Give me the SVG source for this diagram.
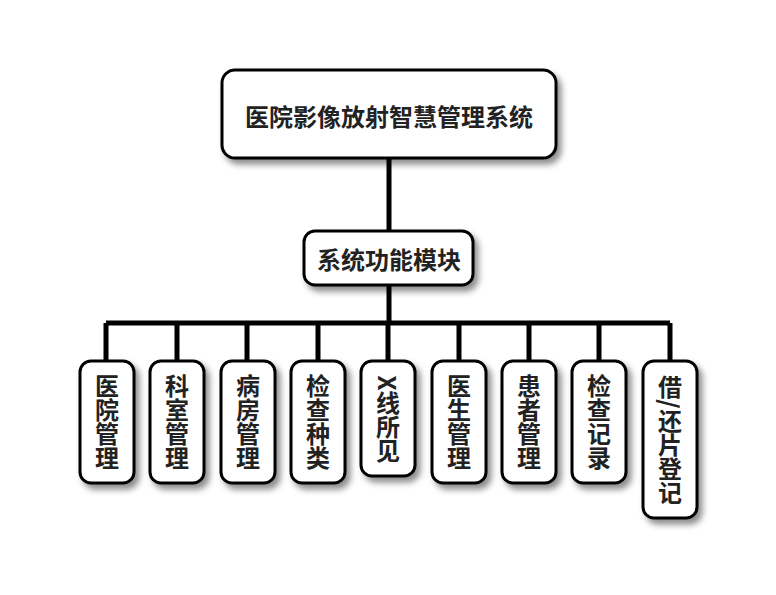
<svg xmlns="http://www.w3.org/2000/svg" width="776" height="595" viewBox="0 0 776 595">
<defs>
<filter id="sh" x="-30%" y="-30%" width="160%" height="160%">
<feDropShadow dx="4" dy="5" stdDeviation="3" flood-color="#000" flood-opacity="0.45"/>
</filter>
<style>
.box{fill:#fff;stroke:#000;stroke-width:3;filter:url(#sh)}
.t{font-family:"Noto Sans CJK SC","Noto Sans",sans-serif;font-weight:bold;font-size:24px;fill:#222;text-anchor:middle;dominant-baseline:central}
.v{writing-mode:vertical-rl;text-orientation:mixed}
.ln{stroke:#000;stroke-width:5;fill:none}
</style>
</defs>
<rect width="776" height="595" fill="#fff"/>
<g id="connectors">
<path class="ln" d="M389,158V231M389,285V323M106,323H670M106,323V361M177,323V361M247,323V361M318,323V361M388,323V361M459,323V361M529,323V361M599,323V361M670,323V361"/>
</g>
<g id="root"><rect class="box" x="222" y="70" width="334" height="88" rx="13"/><text class="t" x="389" y="115">医院影像放射智慧管理系统</text></g>
<g id="modules"><rect class="box" x="304" y="231" width="169" height="54" rx="11"/><text class="t" x="389" y="258">系统功能模块</text></g>
<g id="n1"><rect class="box" x="80" y="361" width="54" height="122" rx="11"/><text class="t v" x="107" y="422">医院管理</text></g>
<g id="n2"><rect class="box" x="150" y="361" width="54" height="122" rx="11"/><text class="t v" x="177" y="422">科室管理</text></g>
<g id="n3"><rect class="box" x="221" y="361" width="54" height="122" rx="11"/><text class="t v" x="248" y="422">病房管理</text></g>
<g id="n4"><rect class="box" x="291" y="361" width="54" height="122" rx="11"/><text class="t v" x="318" y="422">检查种类</text></g>
<g id="n5"><rect class="box" x="361" y="361" width="54" height="115" rx="11"/><text class="t v" x="388" y="419">X线所见</text></g>
<g id="n6"><rect class="box" x="432" y="361" width="54" height="122" rx="11"/><text class="t v" x="459" y="422">医生管理</text></g>
<g id="n7"><rect class="box" x="502" y="361" width="54" height="122" rx="11"/><text class="t v" x="529" y="422">患者管理</text></g>
<g id="n8"><rect class="box" x="572" y="361" width="54" height="122" rx="11"/><text class="t v" x="599" y="422">检查记录</text></g>
<g id="n9"><rect class="box" x="643" y="361" width="54" height="157" rx="11"/><text class="t v" x="670" y="440">借/还片登记</text></g>
</svg>
